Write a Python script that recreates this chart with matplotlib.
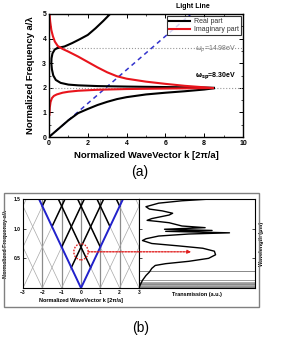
import numpy as np
import matplotlib.pyplot as plt
from matplotlib.patches import Ellipse, Rectangle, ConnectionPatch

plt.rcParams['font.family'] = ['Liberation Sans', 'DejaVu Sans']
plt.rcParams['mathtext.fontset'] = 'dejavusans'

# ---- panel (a): SPP dispersion
lower_real_k = [0, 0.5, 1.0, 1.5, 2.0, 2.5, 3.0, 3.5, 4.0, 5.0, 6.0, 7.0, 8.0, 8.5]
lower_real_f = [0, 0.34, 0.68, 0.97, 1.14, 1.3, 1.43, 1.54, 1.62, 1.73, 1.8, 1.86, 1.93, 1.98]
upper_real_k = [0.45, 0.8, 1.2, 1.6, 2.0, 2.4, 2.8, 3.15]
upper_real_f = [3.62, 3.68, 3.82, 3.98, 4.15, 4.42, 4.72, 5.0]
mid_real_k = [0.45, 0.3, 0.18, 0.13, 0.12, 0.15, 0.22, 0.35, 0.6, 1.0, 1.5, 2.5, 4.0, 6.0, 8.0, 8.5]
mid_real_f = [3.62, 3.56, 3.4, 3.2, 3.0, 2.75, 2.5, 2.32, 2.2, 2.13, 2.1, 2.07, 2.05, 2.03, 2.01, 2.0]
upper_imag_k = [0.03, 0.06, 0.12, 0.2, 0.3, 0.45, 0.7, 1.0, 1.5, 2.0, 2.5, 3.0, 3.5, 4.0, 5.0, 6.0, 7.0, 8.0, 8.45]
upper_imag_f = [5.0, 4.7, 4.35, 4.1, 3.88, 3.7, 3.58, 3.47, 3.27, 3.05, 2.83, 2.63, 2.47, 2.37, 2.25, 2.16, 2.08, 2.02, 1.99]
lower_imag_k = [0.02, 0.04, 0.08, 0.15, 0.25, 0.4, 0.7, 1.0, 1.5, 2.5, 4.0, 6.0, 8.45]
lower_imag_f = [0.9, 1.2, 1.42, 1.58, 1.67, 1.73, 1.8, 1.84, 1.88, 1.92, 1.95, 1.97, 1.99]
light_slope_a = 0.683
f_plasma = 3.6
f_sp = 2.0

# ---- panel (b): folded light lines and transmission
light_slope_b = 0.69
fold_orders = list(range(-6, 7))
grid_k = [-2, -1, 0, 1, 2]
trans_T = [0.62, 0.37, 0.17, 0.06, 0.09, 0.2, 0.29, 0.26, 0.11, 0.07, 0.17, 0.26, 0.37,
           0.57, 0.22, 0.63, 0.23, 0.78, 0.43, 0.17, 0.06, 0.03, 0.11, 0.34, 0.55, 0.65,
           0.66, 0.6, 0.43, 0.23, 0.14, 0.11, 0.09, 0.06, 0.03, 0.01, 0.0]
trans_f = [1.5, 1.47, 1.43, 1.37, 1.33, 1.3, 1.26, 1.23, 1.17, 1.14, 1.12, 1.1, 1.045,
           1.017, 0.99, 0.97, 0.955, 0.93, 0.91, 0.876, 0.83, 0.8, 0.75, 0.71, 0.67, 0.62,
           0.56, 0.5, 0.45, 0.41, 0.38, 0.33, 0.27, 0.21, 0.13, 0.05, 0.0]
wl_lines_f = [0.28, 0.13, 0.10, 0.08, 0.065, 0.05, 0.04, 0.03, 0.02, 0.01]
wl_lines_c = ['#888888', '#999999', '#aaaaaa', '#999999', '#888888', '#aaaaaa',
              '#888888', '#999999', '#777777', '#888888']
mark_k, mark_f = 0.0, 0.61

fig = plt.figure(figsize=(2.81, 3.39), dpi=100)

# ================= (a)
ax = fig.add_axes([49 / 281, 1 - 137 / 339, 194 / 281, 123 / 339])
ax.axhline(f_plasma, color='#999999', ls=':', lw=0.8)
ax.axhline(f_sp, color='#999999', ls=':', lw=0.8)
kk = np.array([0, 10])
ax.plot(kk, light_slope_a * kk, color='#3333cc', ls=(0, (3, 2.5)), lw=1.1)
ax.plot(lower_real_k, lower_real_f, color='black', lw=1.5, label='Real part')
ax.plot(upper_real_k, upper_real_f, color='black', lw=1.5)
ax.plot(mid_real_k, mid_real_f, color='black', lw=1.5)
ax.plot(upper_imag_k, upper_imag_f, color='#e8141c', lw=1.5, label='Imaginary part')
ax.plot(lower_imag_k, lower_imag_f, color='#e8141c', lw=1.5)
ax.set_xlim(0, 10)
ax.set_ylim(0, 5)
ax.set_xticks([0, 2, 4, 6, 8, 10])
ax.set_yticks([0, 1, 2, 3, 4, 5])
ax.set_xticks(np.arange(0, 11, 1), minor=True)
ax.set_yticks(np.arange(0, 5.5, 0.5), minor=True)
ax.tick_params(direction='in', top=True, right=True, labelsize=5, length=3, width=0.7, pad=2)
ax.tick_params(which='minor', direction='in', top=True, right=True, length=1.5, width=0.5)
for lbl in ax.get_xticklabels() + ax.get_yticklabels():
    lbl.set_fontweight('bold')
for s in ax.spines.values():
    s.set_linewidth(1.0)
ax.set_xlabel('Normalized WaveVector k [2π/a]', fontsize=6.8, fontweight='bold', labelpad=3)
ax.set_ylabel('Normalized Frequency a/λ', fontsize=6.8, fontweight='bold', labelpad=5)
leg = ax.legend(loc='upper right', fontsize=5, frameon=True, fancybox=False,
                edgecolor='black', handlelength=3.0, borderpad=0.3, labelspacing=0.15,
                borderaxespad=0.3, handletextpad=0.6)
leg.get_frame().set_linewidth(0.8)
for t in leg.get_texts():
    t.set_color('#333333')
ax.text(7.5, 3.58, r'$\omega_p$=14.98eV', fontsize=5, color='#777777', va='center')
ax.text(7.5, 2.48, r'$\mathbf{\omega_{sp}}$=8.30eV', fontsize=5, fontweight='bold',
        color='black', va='center')
ax.text(7.4, 5.18, 'Light Line', fontsize=5, fontweight='bold', ha='center', va='bottom')
fig.text(140 / 281, 1 - 172 / 339, '(a)', fontsize=10, ha='center', va='center')

# ================= (b)
fig.patches.append(Rectangle((4 / 281, 1 - 307 / 339), 255 / 281, 114 / 339,
                             transform=fig.transFigure, fill=False, edgecolor='#808080', lw=1.0))
axL = fig.add_axes([23 / 281, 1 - 288 / 339, 116 / 281, 89 / 339])
axR = fig.add_axes([139 / 281, 1 - 288 / 339, 116 / 281, 89 / 339], sharey=axL)

for kv in grid_k:
    axL.axvline(kv, color='#8c8c8c', lw=0.9)
ks = np.linspace(-3, 3, 601)
for n in fold_orders:
    for sign in (-1, 1):
        f = light_slope_b * sign * (ks - n)
        f = np.where(f >= 0, f, np.nan)
        axL.plot(ks, f, color='#a8a8a8', lw=0.5)
        inside = np.where(f >= light_slope_b * np.abs(ks) - 1e-9, f, np.nan)
        if n != 0:
            axL.plot(ks, inside, color='black', lw=1.1)
axL.plot(ks, light_slope_b * np.abs(ks), color='#2222cc', lw=1.4)
axL.add_patch(Ellipse((mark_k, mark_f), 0.74, 0.27, fill=False, edgecolor='#e02020',
                      ls=(0, (1.2, 1)), lw=1.0, zorder=5))
axL.set_xlim(-3, 3)
axL.set_ylim(0, 1.5)
axL.set_xticks([-3, -2, -1, 0, 1, 2, 3])
axL.set_yticks([0.5, 1.0, 1.5])
axL.tick_params(direction='in', top=True, right=False, labelsize=3.5, length=2, width=0.5, pad=1.5)
for lbl in axL.get_xticklabels() + axL.get_yticklabels():
    lbl.set_fontweight('bold')
for s in axL.spines.values():
    s.set_linewidth(0.8)
axL.set_xlabel('Normalized WaveVector k [2π/a]', fontsize=4, fontweight='bold', labelpad=2)
axL.set_ylabel('Normalized Frequency a/λ', fontsize=4, fontweight='bold', labelpad=4)

for fv, c in zip(wl_lines_f, wl_lines_c):
    axR.axhline(fv, color=c, lw=0.7)
axR.plot(trans_T, trans_f, color='black', lw=1.0)
axR.set_xlim(0, 1)
axR.set_xticks([0.25, 0.5, 0.75])
axR.tick_params(direction='in', left=True, right=True, labelleft=False, labelbottom=False,
                length=2, width=0.5)
for s in axR.spines.values():
    s.set_linewidth(0.8)
axR.set_xlabel('Transmission (a.u.)', fontsize=4, fontweight='bold', labelpad=3)
axR.yaxis.set_label_position('right')
axR.set_ylabel('Wavelength (μm)', fontsize=4, fontweight='bold', labelpad=3)

arrow = ConnectionPatch(xyA=(mark_k + 0.37, mark_f), coordsA=axL.transData,
                        xyB=(0.45, mark_f), coordsB=axR.transData,
                        arrowstyle='-|>', mutation_scale=5, color='#e02020',
                        ls=(0, (1.2, 1)), lw=1.0, zorder=6)
fig.add_artist(arrow)
fig.text(141 / 281, 1 - 328 / 339, '(b)', fontsize=10, ha='center', va='center')

fig.savefig('out.png', dpi=100)
